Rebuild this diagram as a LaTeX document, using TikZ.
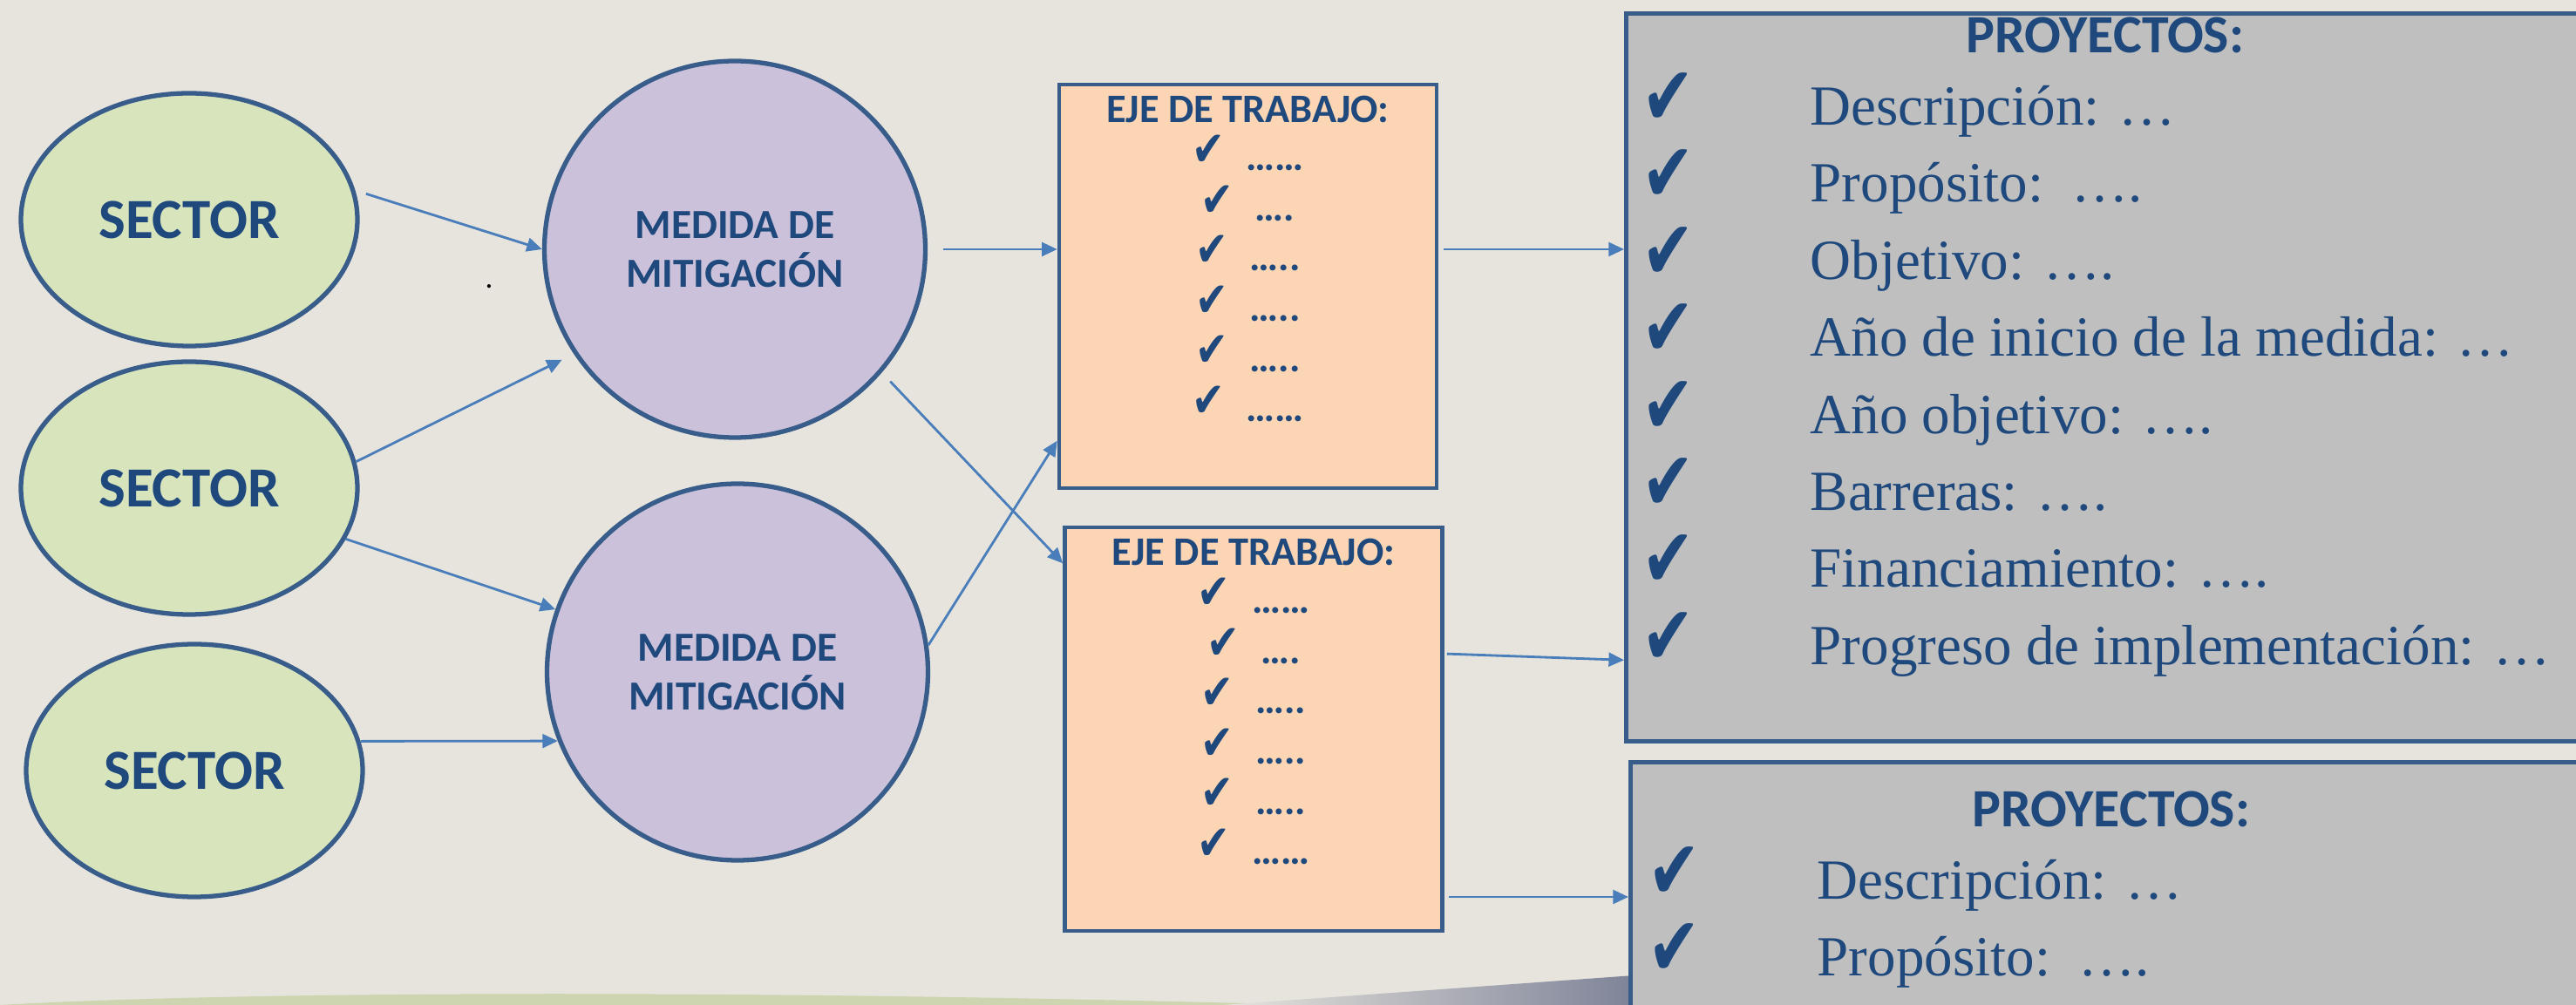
\documentclass[tikz,border=0pt]{standalone}
\usepackage{fontspec}
\setmainfont{Carlito}
\newfontfamily\itemfont{Liberation Serif}
\newfontfamily\symfont{DejaVu Sans}
\usetikzlibrary{shapes.geometric,arrows.meta,positioning}

\definecolor{bgpaper}{HTML}{E7E4DD}
\definecolor{txtblue}{HTML}{1F497D}
\definecolor{lineblue}{HTML}{385D8A}
\definecolor{arrblue}{HTML}{4A7EBB}
\definecolor{sectgreen}{HTML}{D8E4BC}
\definecolor{medpurple}{HTML}{CCC1DA}
\definecolor{ejepeach}{HTML}{FCD5B5}
\definecolor{projgray}{HTML}{BFBFBF}
\definecolor{hillgreen}{HTML}{CCD5AF}
\definecolor{wedgegray}{HTML}{7E8398}

\newcommand{\ejechk}{\raisebox{1.5pt}{\scalebox{0.8}[1]{\symfont\fontsize{16}{16}\selectfont ✔}}}
\newcommand{\projchkmark}{\scalebox{0.76}[1]{✔}}

\tikzset{
  sector/.style={ellipse, draw=lineblue, line width=1.5pt, fill=sectgreen,
    minimum width=3.86cm, minimum height=2.9cm, inner sep=0pt,
    text=txtblue, font=\bfseries\fontsize{18.5}{22}\selectfont},
  medida/.style={ellipse, draw=lineblue, line width=1.5pt, fill=medpurple,
    minimum width=4.37cm, minimum height=4.32cm, inner sep=0pt, align=center,
    text=txtblue, font=\bfseries\fontsize{13.5}{16}\selectfont},
  ejebox/.style={rectangle, draw=lineblue, line width=1.3pt, fill=ejepeach,
    minimum width=4.33cm, minimum height=4.63cm, inner sep=0pt},
  projbox/.style={rectangle, draw=lineblue, line width=1.3pt, fill=projgray,
    minimum width=11cm, anchor=north west, inner sep=0pt},
  ejetitle/.style={anchor=base, inner sep=0pt, text=txtblue,
    font=\bfseries\fontsize{13.2}{15.9}\selectfont},
  ejeitem/.style={anchor=base, inner sep=0pt, text=txtblue,
    font=\bfseries\fontsize{13.2}{15.9}\selectfont},
  projtitle/.style={anchor=base, inner sep=0pt, text=txtblue,
    font=\bfseries\fontsize{17.6}{21}\selectfont},
  projchk/.style={anchor=base west, inner sep=0pt, text=txtblue,
    font=\symfont\fontsize{27}{29}\selectfont},
  projitem/.style={anchor=base west, inner sep=0pt, text=txtblue,
    font=\itemfont\fontsize{18.5}{22}\selectfont},
  arr/.style={draw=arrblue, line width=0.8pt, -{Triangle[length=5pt,width=4.5pt]}}
}

\begin{document}
\begin{tikzpicture}
  \useasboundingbox (0,0) rectangle (29.55,-11.53);
  \fill[bgpaper] (0,0) rectangle (29.55,-11.53);
  \clip (0,0) rectangle (29.55,-11.53);

  % fondo inferior
  \fill[hillgreen] (0,-11.53) .. controls (3,-11.36) and (9,-11.36) .. (15,-11.53) -- cycle;
  \shade[left color=bgpaper, right color=wedgegray]
    (14.03,-11.53) -- (18.75,-11.19) -- (18.75,-11.53) -- cycle;

  % sectores
  \node[sector] (s1) at (2.17,-2.52) {SECTOR};
  \node[sector] (s2) at (2.17,-5.60) {SECTOR};
  \node[sector] (s3) at (2.23,-8.84) {SECTOR};

  % medidas de mitigacion
  \node[medida] (m1) at (8.43,-2.86) {MEDIDA DE\\MITIGACIÓN};
  \node[medida] (m2) at (8.46,-7.71) {MEDIDA DE\\MITIGACIÓN};
  \node[anchor=base, inner sep=0pt, font=\fontsize{10}{12}\selectfont] (punto) at (5.61,-3.31) {.};

  % ejes de trabajo
  \node[ejebox] (box1) at (14.315,-3.285) {};
  \node[ejebox] (box2) at (14.38,-8.365) {};
  \foreach \bx in {box1,box2}{
    \node[ejetitle] (\bx-t) at ([yshift=-4.6mm]\bx.north) {EJE DE TRABAJO:};
    \foreach \d [count=\i] in {……,….,…..,…..,…..,……}
      \node[ejeitem] (\bx-\i) at ([yshift={-10.1mm-(\i-1)*5.76mm}]\bx.north) {\ejechk\hspace{7pt}\d};
  }

  % proyectos
  \node[projbox, minimum height=8.35cm] (p1) at (18.63,-0.13) {};
  \node[projbox, minimum height=3cm] (p2) at (18.68,-8.72) {};
  \node[projtitle] (p1-t) at (24.15,-0.61) {PROYECTOS:};
  \foreach \t [count=\i from 0] in {Descripción: …, Propósito:\ \ …., Objetivo: ….,
      Año de inicio de la medida: …, Año objetivo: …., Barreras: ….,
      Financiamiento: …., Progreso de implementación: …}{
    \node[projchk] (p1-c\i) at (18.83,{-1.435-0.884*\i}) {\projchkmark};
    \node[projitem] (p1-i\i) at (20.76,{-1.435-0.884*\i}) {\t};
  }
  \node[projtitle] (p2-t) at (24.22,-9.49) {PROYECTOS:};
  \node[projchk] (p2-c0) at (18.90,-10.32) {\projchkmark};
  \node[projitem] (p2-i0) at (20.84,-10.32) {Descripción: …};
  \node[projchk] (p2-c1) at (18.90,-11.20) {\projchkmark};
  \node[projitem] (p2-i1) at (20.84,-11.20) {Propósito:\ \ ….};

  % conectores
  \draw[arr, shorten <=1.3mm] (s1.10) -- (m1.180);
  \draw[arr, shorten >=1.5mm] (s2.9) -- (m1.213);
  \draw[arr] (s2.-18) -- (m2.161);
  \draw[arr] (s3.10) -- (m2.201);
  \draw[arr, shorten <=1.8mm] (m1.east) -- (m1.east -| box1.west);
  \draw[arr, shorten <=1.4mm] (m1.-40) -- (box2.139);
  \draw[arr] (m2.8) -- (box1.219);
  \draw[arr, shorten <=0.6mm] (box1.east |- m1.east) -- (p1.west |- m1.east);
  \draw[arr, shorten <=0.3mm] ([yshift=8.65mm]box2.east) -- ([yshift=-32.45mm]p1.west);
  \draw[arr, shorten <=0.5mm] ([yshift=-19.25mm]box2.east) -- ([yshift=-19.25mm]box2.east -| p2.west);
\end{tikzpicture}
\end{document}
